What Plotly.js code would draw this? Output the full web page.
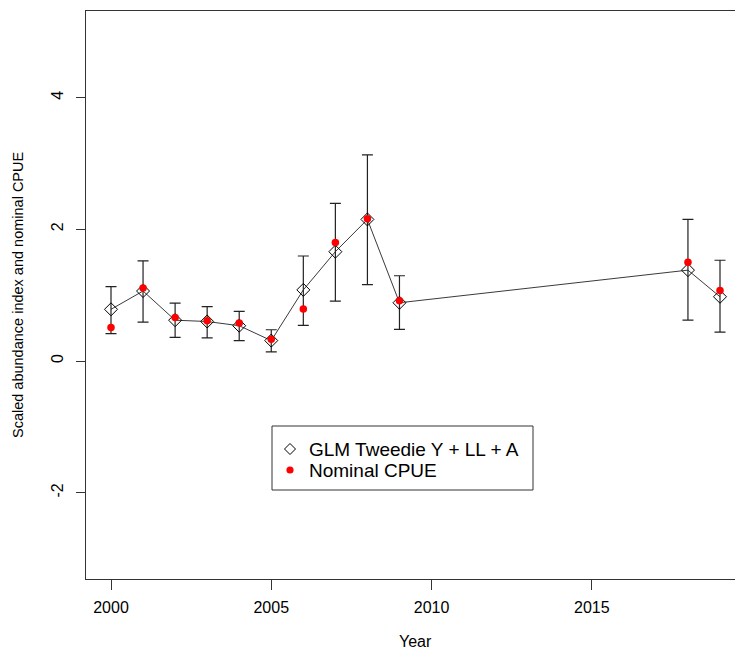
<!DOCTYPE html>
<html>
<head>
<meta charset="utf-8">
<script src="https://cdn.plot.ly/plotly-3.0.1.min.js"></script>
<style>
  html, body { margin: 0; padding: 0; overflow: hidden; background: #fff; }
  #chart { width: 760px; height: 651px; }
</style>
</head>
<body>
<div id="chart"></div>
<script>
// ---- data ----
const years      = [2000, 2001, 2002, 2003, 2004, 2005, 2006, 2007, 2008, 2009, 2018, 2019];
const glmIndex   = [0.785, 1.063, 0.62, 0.60, 0.536, 0.31, 1.08, 1.66, 2.15, 0.885, 1.38, 0.976];
const glmUpper   = [1.13, 1.52, 0.88, 0.825, 0.755, 0.475, 1.595, 2.395, 3.13, 1.295, 2.15, 1.53];
const glmLower   = [0.415, 0.59, 0.36, 0.35, 0.31, 0.14, 0.54, 0.91, 1.16, 0.48, 0.62, 0.44];
const nominal    = [0.51, 1.11, 0.66, 0.61, 0.577, 0.33, 0.79, 1.80, 2.16, 0.915, 1.50, 1.07];
const xTicks     = [2000, 2005, 2010, 2015];
const yTicks     = [-2, 0, 2, 4];
const yTickText  = ["-2", "0", "2", "4"];
const seriesNames = ["GLM Tweedie Y + LL + A", "Nominal CPUE"];

const errPlus  = glmUpper.map((u, i) => u - glmIndex[i]);
const errMinus = glmIndex.map((v, i) => v - glmLower[i]);

const FONT = "Liberation Sans, Arial, sans-serif";

// plot-area geometry (pixels) used to place the hand-built legend box
const W = 760, H = 651, ML = 86, MR = 15, MT = 11, MB = 72;
const PW = W - ML - MR, PH = H - MT - MB;
const px = x => (x - ML) / PW;          // pixel x -> paper x
const py = y => (H - MB - y) / PH;      // pixel y -> paper y

const traces = [
  { // connecting line
    x: years, y: glmIndex, type: "scatter", mode: "lines",
    line: { color: "#3a3a3a", width: 1 },
    showlegend: false, hoverinfo: "skip"
  },
  { // GLM index with CI
    x: years, y: glmIndex, type: "scatter", mode: "markers",
    name: seriesNames[0], showlegend: false,
    marker: { symbol: "diamond-open", size: 10, color: "#000", line: { width: 1, color: "#000" } },
    error_y: { type: "data", symmetric: false, array: errPlus, arrayminus: errMinus,
               color: "#222", thickness: 1.2, width: 5.5 }
  },
  { // nominal CPUE
    x: years, y: nominal, type: "scatter", mode: "markers",
    name: seriesNames[1], showlegend: false,
    marker: { symbol: "circle", size: 7.5, color: "#ff0000" }
  }
];

// legend (box, symbols, labels)
const legX0 = 272, legX1 = 533, legY0 = 426, legY1 = 490;
const symX = 290, row1 = 449, row2 = 470, txtX = 307;
const dH = 5.5;
const diamondPath = "M " + px(symX) + " " + py(row1 - dH) +
  " L " + px(symX + dH) + " " + py(row1) +
  " L " + px(symX) + " " + py(row1 + dH) +
  " L " + px(symX - dH) + " " + py(row1) + " Z";

const shapes = [
  { type: "rect", xref: "paper", yref: "paper",
    x0: px(legX0), x1: px(legX1), y0: py(legY1), y1: py(legY0),
    line: { color: "#333", width: 1 }, fillcolor: "#fff", layer: "above" },
  { type: "path", xref: "paper", yref: "paper", path: diamondPath,
    line: { color: "#000", width: 1 }, layer: "above" },
  { type: "circle", xref: "paper", yref: "paper",
    x0: px(symX - 3.6), x1: px(symX + 3.6), y0: py(row2 + 3.6), y1: py(row2 - 3.6),
    line: { color: "#ff0000", width: 0 }, fillcolor: "#ff0000", layer: "above" }
];

const layout = {
  width: W, height: H,
  margin: { l: ML, r: MR, t: MT, b: MB },
  paper_bgcolor: "#fff", plot_bgcolor: "#fff",
  font: { family: FONT, size: 16, color: "#000" },
  showlegend: false,
  xaxis: {
    range: [1999.22, 2019.78],
    tickmode: "array", tickvals: xTicks,
    ticks: "outside", ticklen: 10, tickwidth: 1, tickcolor: "#333",
    ticklabelstandoff: 3,
    showgrid: false, zeroline: false,
    showline: true, mirror: true, linecolor: "#333", linewidth: 1.3,
    tickfont: { family: FONT, size: 16, color: "#000" }
  },
  yaxis: {
    range: [-3.31, 5.315],
    tickmode: "array", tickvals: yTicks, ticktext: yTickText,
    tickangle: -90,
    ticks: "outside", ticklen: 9, tickwidth: 1, tickcolor: "#333",
    ticklabelstandoff: 6,
    showgrid: false, zeroline: false,
    showline: true, mirror: true, linecolor: "#333", linewidth: 1.3,
    tickfont: { family: FONT, size: 16, color: "#000" }
  },
  shapes: shapes,
  annotations: [
    { text: "Scaled abundance index and nominal CPUE", xref: "paper", yref: "paper",
      x: px(18), y: 0.5, xanchor: "center", yanchor: "middle", textangle: -90,
      showarrow: false, font: { family: FONT, size: 14.5, color: "#000" } },
    { text: "Year", xref: "paper", yref: "paper",
      x: px(415), y: py(641), xanchor: "center", yanchor: "middle",
      showarrow: false, font: { family: FONT, size: 16, color: "#000" } },
    { text: seriesNames[0], xref: "paper", yref: "paper",
      x: px(txtX), y: py(row1), xanchor: "left", yanchor: "middle",
      showarrow: false, font: { family: FONT, size: 19, color: "#000" } },
    { text: seriesNames[1], xref: "paper", yref: "paper",
      x: px(txtX), y: py(row2), xanchor: "left", yanchor: "middle",
      showarrow: false, font: { family: FONT, size: 19, color: "#000" } }
  ]
};

Plotly.newPlot("chart", traces, layout, { displayModeBar: false, staticPlot: true });
</script>
</body>
</html>
